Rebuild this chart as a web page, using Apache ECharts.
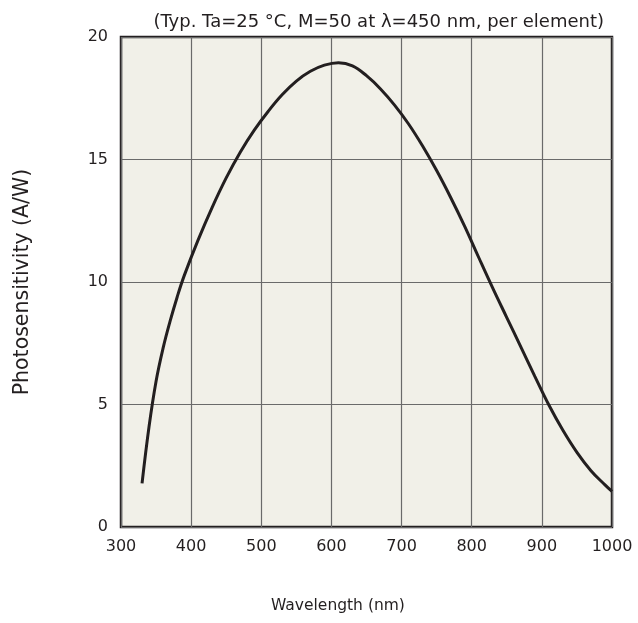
<!DOCTYPE html>
<html>
<head>
<meta charset="utf-8">
<script src="https://cdn.jsdelivr.net/npm/echarts@6/dist/echarts.min.js"></script>
<style>html,body{margin:0;padding:0;background:#fff;}#c{width:638px;height:623px;}</style>
</head>
<body>
<div id="c"></div>
<script>
const wavelength = [330, 340, 350, 360, 370, 380, 390, 410, 430, 450, 470, 490, 510, 530, 550, 570, 590, 610, 630, 650, 670, 690, 710, 730, 750, 770, 790, 810, 830, 850, 870, 890, 910, 930, 950, 970, 990, 1000];
const photosensitivity = [1.78, 4.1, 5.95, 7.3, 8.4, 9.38, 10.25, 11.72, 13.05, 14.25, 15.3, 16.2, 16.97, 17.65, 18.2, 18.6, 18.85, 18.95, 18.82, 18.42, 17.88, 17.22, 16.45, 15.55, 14.55, 13.45, 12.27, 11.0, 9.75, 8.55, 7.35, 6.15, 4.98, 3.95, 3.05, 2.3, 1.72, 1.45];
const xTicks = [300, 400, 500, 600, 700, 800, 900, 1000];
const yTicks = [0, 5, 10, 15, 20];
const titleText = '(Typ. Ta=25 \u00B0C, M=50 at \u03BB=450 nm, per element)';
const xName = 'Wavelength (nm)';
const yName = 'Photosensitivity (A/W)';

const FONT = '"DejaVu Sans", sans-serif';
const chart = echarts.init(document.getElementById('c'), null, {renderer: 'canvas'});
chart.setOption({
  animation: false,
  backgroundColor: '#ffffff',
  title: {
    text: titleText,
    right: 29, top: 8,
    textStyle: {fontFamily: FONT, fontSize: 18, fontWeight: 'normal', color: '#231f20'}
  },
  graphic: [{
    type: 'text', left: 271, top: 598,
    style: {text: xName, fontFamily: FONT, fontSize: 15.5, fill: '#231f20'}
  }],
  grid: {left: 121, right: 26, top: 37, bottom: 96, show: true, backgroundColor: '#f1f0e8', borderColor: '#231f20', borderWidth: 2.5},
  xAxis: {
    type: 'value', min: xTicks[0], max: xTicks[xTicks.length - 1], interval: 100,
    axisLine: {show: false}, axisTick: {show: false},
    axisLabel: {fontFamily: FONT, fontSize: 16, color: '#231f20', margin: 12, formatter: v => String(v)},
    splitLine: {show: true, lineStyle: {color: '#6a6a6a', width: 1.2}}
  },
  yAxis: {
    type: 'value', min: yTicks[0], max: yTicks[yTicks.length - 1], interval: 5,
    name: yName, nameLocation: 'middle', nameGap: 88, nameRotate: 90,
    nameTextStyle: {fontFamily: FONT, fontSize: 20.5, color: '#231f20'},
    axisLine: {show: false}, axisTick: {show: false},
    axisLabel: {fontFamily: FONT, fontSize: 16, color: '#231f20', margin: 13},
    splitLine: {show: true, lineStyle: {color: '#6a6a6a', width: 1.2}}
  },
  series: [{
    type: 'line',
    data: wavelength.map((w, i) => [w, photosensitivity[i]]),
    smooth: 0.4,
    showSymbol: false,
    lineStyle: {color: '#231f20', width: 3}
  }]
});
</script>
</body>
</html>
